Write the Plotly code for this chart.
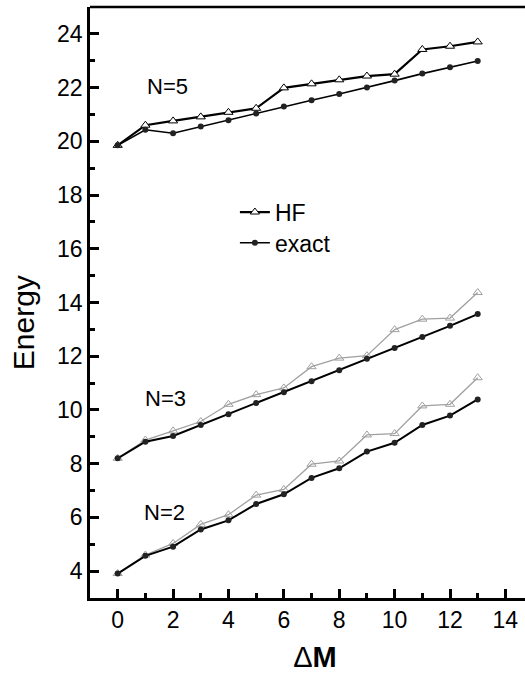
import plotly.graph_objects as go

dm = list(range(14))

hf_n5 = [19.85, 20.60, 20.76, 20.91, 21.08, 21.23, 21.99, 22.14, 22.29, 22.43, 22.50, 23.42, 23.54, 23.70]
ex_n5 = [19.85, 20.43, 20.30, 20.55, 20.78, 21.04, 21.30, 21.53, 21.76, 22.00, 22.26, 22.52, 22.76, 22.99]

hf_n3 = [8.20, 8.88, 9.22, 9.57, 10.21, 10.57, 10.82, 11.61, 11.93, 12.02, 12.99, 13.38, 13.42, 14.37]
ex_n3 = [8.20, 8.82, 9.03, 9.44, 9.84, 10.26, 10.66, 11.07, 11.48, 11.91, 12.31, 12.72, 13.13, 13.57]

hf_n2 = [3.91, 4.60, 5.03, 5.74, 6.10, 6.83, 7.04, 7.98, 8.10, 9.07, 9.12, 10.15, 10.21, 11.20]
ex_n2 = [3.91, 4.57, 4.91, 5.55, 5.89, 6.50, 6.86, 7.47, 7.83, 8.45, 8.78, 9.44, 9.79, 10.39]

labels = ["N=5", "N=3", "N=2"]
label_x = [1.79, 1.73, 1.69]
label_y = [22.04, 10.44, 6.20]

FONT = "Liberation Sans, Arial, sans-serif"
fig = go.Figure()

gray = "#a0a0a0"
for hf in (hf_n2, hf_n3):
    fig.add_trace(go.Scatter(x=dm, y=hf, mode="lines+markers", showlegend=False,
                             line=dict(color=gray, width=1.3),
                             marker=dict(symbol="triangle-up-open", size=8, color=gray, line=dict(width=1))))
for ex in (ex_n2, ex_n3):
    fig.add_trace(go.Scatter(x=dm, y=ex, mode="lines+markers", showlegend=False,
                             line=dict(color="black", width=2),
                             marker=dict(symbol="circle", size=6, color="#222")))

fig.add_trace(go.Scatter(x=dm, y=hf_n5, mode="lines+markers", name="HF", legend="legend",
                         line=dict(color="black", width=2.2),
                         marker=dict(symbol="triangle-up", size=8, color="white",
                                     line=dict(color="black", width=1))))
fig.add_trace(go.Scatter(x=dm, y=ex_n5, mode="lines+markers", name="exact", legend="legend2",
                         line=dict(color="black", width=1.6),
                         marker=dict(symbol="circle", size=6, color="#222")))

for t, xx, yy in zip(labels, label_x, label_y):
    fig.add_annotation(x=xx, y=yy, text=t, showarrow=False, font=dict(family=FONT, size=22, color="black"))

fig.add_annotation(xref="paper", yref="y", x=-0.146, y=13.24, text="Energy", textangle=-90,
                   showarrow=False, font=dict(family=FONT, size=30, color="black"), xanchor="center")

# top frame line
fig.add_shape(type="line", xref="paper", yref="paper", x0=0, x1=1, y0=1, y1=1,
              line=dict(color="black", width=2.5))

axis_common = dict(showgrid=False, zeroline=False, showline=True, linecolor="black", linewidth=2.5,
                   ticks="inside", ticklen=9, tickwidth=2.5, tickcolor="black",
                   tickfont=dict(family=FONT, size=23, color="black"))

fig.update_xaxes(range=[-1, 15.25], dtick=2, tick0=0, mirror=False,
                 minor=dict(dtick=1, tick0=1, ticks="inside", ticklen=5, tickwidth=2.5, tickcolor="black"),
                 title=dict(text="Δ<b>M</b>", font=dict(family=FONT, size=29, color="black"), standoff=15),
                 **axis_common)
fig.update_yaxes(range=[3, 25], dtick=2, tick0=0, mirror=False,
                 minor=dict(dtick=1, tick0=1, ticks="inside", ticklen=5, tickwidth=2.5, tickcolor="black"),
                 **axis_common)

fig.update_layout(
    width=540, height=679,
    margin=dict(l=90, r=0, t=7, b=81, pad=0),
    plot_bgcolor="white", paper_bgcolor="white",
    legend=dict(x=0.322, y=0.653, xanchor="left", yanchor="middle", bgcolor="rgba(0,0,0,0)",
                font=dict(family=FONT, size=23, color="black")),
    legend2=dict(x=0.322, y=0.601, xanchor="left", yanchor="middle", bgcolor="rgba(0,0,0,0)",
                 font=dict(family=FONT, size=23, color="black")),
)

fig.write_html("out.html", config={"displayModeBar": False},
               post_script="document.body.style.margin='0';document.body.style.padding='0';"
                           "document.documentElement.style.overflow='hidden';"
                           "document.body.style.overflow='hidden';")
